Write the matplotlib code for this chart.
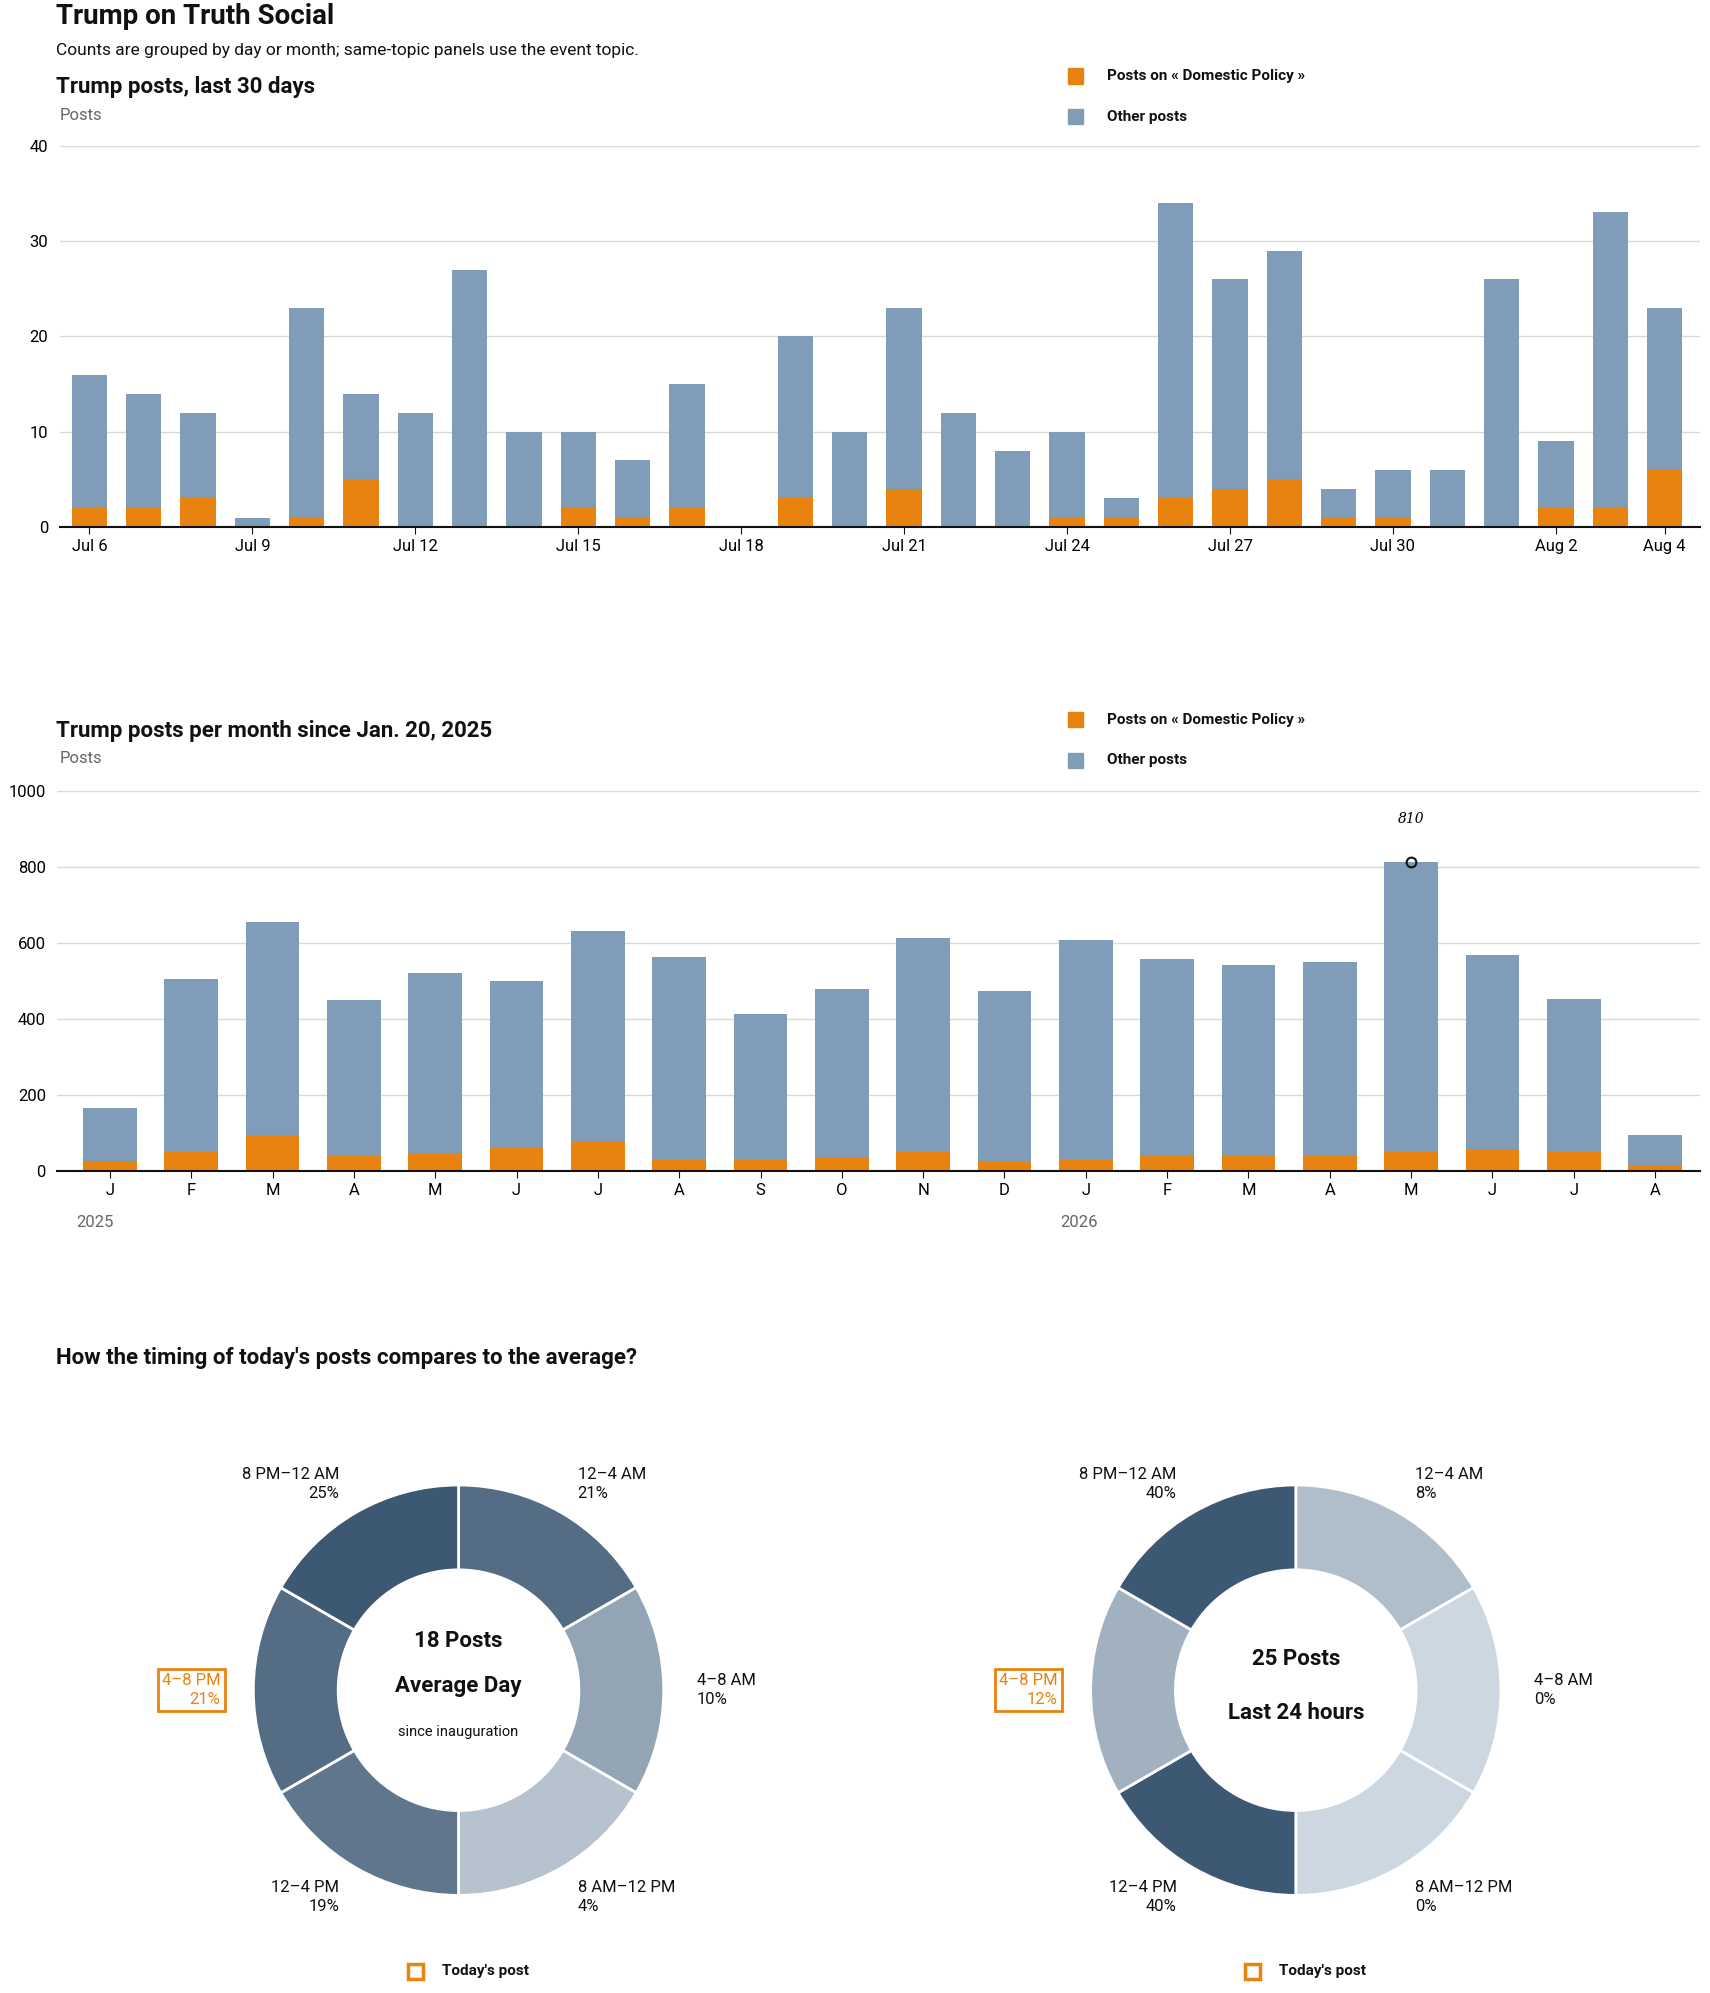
import numpy as np
import matplotlib
matplotlib.use("Agg")
import matplotlib.pyplot as plt
from matplotlib.colors import to_rgb
from matplotlib.patches import Rectangle

plt.rcParams["font.family"] = ["Roboto", "DejaVu Sans"]

# ============================================================
# Data
# ============================================================
day_labels = ["Jul 6", "Jul 7", "Jul 8", "Jul 9", "Jul 10", "Jul 11", "Jul 12", "Jul 13",
              "Jul 14", "Jul 15", "Jul 16", "Jul 17", "Jul 18", "Jul 19", "Jul 20", "Jul 21",
              "Jul 22", "Jul 23", "Jul 24", "Jul 25", "Jul 26", "Jul 27", "Jul 28", "Jul 29",
              "Jul 30", "Jul 31", "Aug 1", "Aug 2", "Aug 3", "Aug 4"]
day_total = [16, 14, 12, 1, 23, 14, 12, 27, 10, 10, 7, 15, 0, 20, 10, 23,
             12, 8, 10, 3, 34, 26, 29, 4, 6, 6, 26, 9, 33, 23]
day_topic = [2, 2, 3, 0, 1, 5, 0, 0, 0, 2, 1, 2, 0, 3, 0, 4,
             0, 0, 1, 1, 3, 4, 5, 1, 1, 0, 0, 2, 2, 6]
day_ticks = ["Jul 6", "Jul 9", "Jul 12", "Jul 15", "Jul 18", "Jul 21", "Jul 24",
             "Jul 27", "Jul 30", "Aug 2", "Aug 4"]

month_labels = ["J", "F", "M", "A", "M", "J", "J", "A", "S", "O", "N", "D",
                "J", "F", "M", "A", "M", "J", "J", "A"]
month_total = [165, 505, 655, 448, 520, 500, 630, 563, 413, 478, 612, 473,
               606, 557, 540, 550, 812, 568, 453, 93]
month_topic = [25, 50, 95, 38, 45, 60, 75, 28, 28, 37, 48, 22,
               28, 38, 38, 42, 48, 55, 50, 12]

slots = ["12–4 AM", "4–8 AM", "8 AM–12 PM", "12–4 PM", "4–8 PM", "8 PM–12 AM"]
avg_pct = [21, 10, 4, 19, 21, 25]
today_pct = [8, 0, 0, 40, 12, 40]

ORANGE = "#e8830f"
BLUE = "#7f9db9"
INK = "#111111"
GREY = "#666666"

W, H = 1350, 1573  # layout coordinates (scaled to 1710x1993)
fig = plt.figure(figsize=(17.1, 19.93), dpi=100)


def fx(x):
    return x / W


def fy(y):
    return 1 - y / H


def txt(x, y, s, **kw):
    kw.setdefault("color", INK)
    kw.setdefault("va", "center")
    return fig.text(fx(x), fy(y), s, **kw)


def axes_box(x0, y0, x1, y1):
    return fig.add_axes([fx(x0), fy(y1), fx(x1) - fx(x0), (y1 - y0) / H])


def legend(y):
    for dy, c, s in [(0, ORANGE, "Posts on « Domestic Policy »"), (32, BLUE, "Other posts")]:
        fig.patches.append(Rectangle((fx(843), fy(y + dy + 6)), 12 / W, 12 / H,
                                     transform=fig.transFigure, color=c))
        txt(874, y + dy, s, fontsize=11, fontweight="bold")


def style_bar_axes(ax):
    for s in ["top", "right", "left"]:
        ax.spines[s].set_visible(False)
    ax.spines["bottom"].set_color(INK)
    ax.spines["bottom"].set_linewidth(1.5)
    ax.grid(axis="y", color="#d9d9d9", linewidth=1)
    ax.set_axisbelow(True)
    ax.tick_params(axis="y", length=0, labelsize=12, pad=8)
    ax.tick_params(axis="x", length=5, labelsize=12, color=INK)


# ============================================================
# Header
# ============================================================
txt(44, 13, "Trump on Truth Social", fontsize=20, fontweight="bold")
txt(44, 40, "Counts are grouped by day or month; same-topic panels use the event topic.", fontsize=12.5)

# ============================================================
# Daily chart
# ============================================================
txt(44, 69, "Trump posts, last 30 days", fontsize=16, fontweight="bold")
txt(47, 91, "Posts", fontsize=12, color=GREY)
legend(60)
ax1 = axes_box(47, 115, 1342, 416)
x = np.arange(len(day_total))
other = np.array(day_total) - np.array(day_topic)
ax1.bar(x, day_topic, width=0.65, color=ORANGE)
ax1.bar(x, other, bottom=day_topic, width=0.65, color=BLUE)
ax1.set_ylim(0, 40)
ax1.set_yticks([0, 10, 20, 30, 40])
ax1.set_xlim(-0.55, len(x) - 0.35)
ax1.set_xticks([day_labels.index(t) for t in day_ticks])
ax1.set_xticklabels(day_ticks)
style_bar_axes(ax1)

# ============================================================
# Monthly chart
# ============================================================
txt(44, 577, "Trump posts per month since Jan. 20, 2025", fontsize=16, fontweight="bold")
txt(47, 599, "Posts", fontsize=12, color=GREY)
legend(568)
ax2 = axes_box(45, 624, 1342, 924)
xm = np.arange(len(month_total))
other_m = np.array(month_total) - np.array(month_topic)
ax2.bar(xm, month_topic, width=0.66, color=ORANGE)
ax2.bar(xm, other_m, bottom=month_topic, width=0.66, color=BLUE)
ax2.set_ylim(0, 1000)
ax2.set_yticks(range(0, 1001, 200))
ax2.set_xlim(-0.65, len(xm) - 0.45)
ax2.set_xticks(xm)
ax2.set_xticklabels(month_labels)
style_bar_axes(ax2)
imax = int(np.argmax(month_total))
ax2.plot(imax, month_total[imax], "o", mfc="none", mec=INK, mew=1.5, ms=7)
ax2.annotate("810", (imax, month_total[imax]), xytext=(0, 28), textcoords="offset points",
             ha="center", fontsize=10, style="italic", family="DejaVu Serif")
txt(60, 965, "2025", fontsize=12, color=GREY)
txt(837, 965, "2026", fontsize=12, color=GREY)

# ============================================================
# Donuts
# ============================================================
txt(44, 1072, "How the timing of today's posts compares to the average?", fontsize=16, fontweight="bold")

light = np.array(to_rgb("#cdd7e1"))
dark = np.array(to_rgb("#3d5872"))


def donut(cx, vals, lines):
    ax = axes_box(cx - 170, 1334 - 170, cx + 170, 1334 + 170)
    vmax = max(vals)
    cols = [tuple(light + (dark - light) * (v / vmax)) for v in vals]
    ax.pie([1] * 6, colors=cols, startangle=90, counterclock=False, radius=162 / 170,
           wedgeprops=dict(width=67 / 170, edgecolor="white", linewidth=2))
    ax.set_aspect("equal")
    ax.set_xlim(-1, 1)
    ax.set_ylim(-1, 1)
    for y, s, kw in lines:
        txt(cx, y, s, ha="center", **kw)
    pos = [(94, 1171, "left"), (188, 1334, "left"), (94, 1497, "left"),
           (-94, 1497, "right"), (-188, 1334, "right"), (-94, 1171, "right")]
    for (dx, y, ha), lab, v in zip(pos, slots, vals):
        col = ORANGE if lab == "4–8 PM" else INK
        t = txt(cx + dx, y, f"{lab}\n{v}%", ha=ha, fontsize=12, color=col, linespacing=1.35)
        if lab == "4–8 PM":
            t.set_bbox(dict(boxstyle="square,pad=0.25", fc="white", ec=ORANGE, lw=2))
    fig.patches.append(Rectangle((fx(cx - 40), fy(1562)), 12 / W, 12 / H, transform=fig.transFigure,
                                 fc="white", ec=ORANGE, lw=2.5))
    txt(cx - 13, 1556, "Today's post", fontsize=11, fontweight="bold")


donut(362, avg_pct, [(1295, "18 Posts", dict(fontsize=16, fontweight="bold")),
                     (1331, "Average Day", dict(fontsize=16, fontweight="bold")),
                     (1367, "since inauguration", dict(fontsize=10.5))])
donut(1023, today_pct, [(1309, "25 Posts", dict(fontsize=16, fontweight="bold")),
                        (1352, "Last 24 hours", dict(fontsize=16, fontweight="bold"))])

fig.savefig("out.png", dpi=100, facecolor="white")
